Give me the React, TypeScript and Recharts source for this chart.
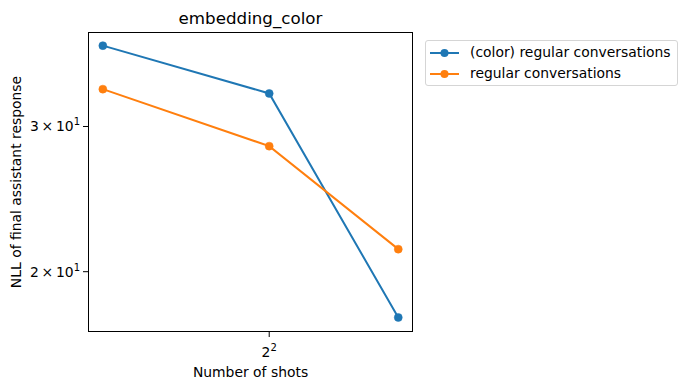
import React from "react";
import { LineChart, Line, XAxis, YAxis } from "recharts";

const shots = [3, 4, 5];
const colorRegular = [37.6, 32.9, 17.6];
const regular = [33.3, 28.4, 21.3];
const seriesNames = ["(color) regular conversations", "regular conversations"];
const seriesColors = ["#1f77b4", "#ff7f0e"];
const xTicks = [4];
const yTicks = [20, 30];

const FONT = "DejaVu Sans, sans-serif";

const data = shots.map((s, i) => ({
  shots: s,
  colorRegular: colorRegular[i],
  regular: regular[i],
}));

function XTick({ x, y, payload }: any) {
  const e = Math.round(Math.log2(payload.value));
  return (
    <text x={x} y={y + 14.5} textAnchor="middle" fontFamily={FONT} fontSize={13.9} fill="#000">
      <tspan>2</tspan>
      <tspan dy={-6} fontSize={10}>{e}</tspan>
    </text>
  );
}

function YTick({ x, y, payload }: any) {
  const v = payload.value;
  const e = Math.floor(Math.log10(v));
  const m = Math.round(v / Math.pow(10, e));
  return (
    <text x={x + 2} y={y + 5} textAnchor="end" fontFamily={FONT} fontSize={13.9} fill="#000">
      <tspan>{m}{"\u2009×\u2009"}10</tspan>
      <tspan dy={-6} fontSize={10}>{e}</tspan>
    </text>
  );
}

function LegendBox() {
  return (
    <div
      style={{
        position: "absolute",
        left: 425,
        top: 40,
        border: "1px solid #d5d5d5",
        borderRadius: 3,
        padding: "1px 6px 1px 4px",
        background: "#fff",
        fontFamily: FONT,
        fontSize: 13.9,
        lineHeight: "21px",
      }}
    >
      {seriesNames.map((n, i) => (
        <div key={n} style={{ display: "flex", alignItems: "center", whiteSpace: "nowrap" }}>
          <svg width={40} height={12} style={{ flex: "none" }}>
            <line x1={0} y1={6} x2={29} y2={6} stroke={seriesColors[i]} strokeWidth={2} />
            <circle cx={14.5} cy={6} r={4} fill={seriesColors[i]} />
          </svg>
          <span>{n}</span>
        </div>
      ))}
    </div>
  );
}

export default function App() {
  return (
    <div style={{ position: "absolute", left: 0, top: 0, width: 685, height: 390, background: "#fff" }}>
      <LineChart
        width={685}
        height={390}
        data={data}
        margin={{ top: 32, right: 272, bottom: 18, left: 28 }}
      >
        <XAxis
          dataKey="shots"
          type="number"
          scale="log"
          domain={[2.924, 5.129]}
          allowDataOverflow
          ticks={xTicks}
          height={40}
          tickSize={5}
          tickMargin={5}
          tick={<XTick />}
          axisLine={false}
          tickLine={{ stroke: "#000" }}
        />
        <YAxis
          type="number"
          scale="log"
          domain={[16.9, 39.06]}
          allowDataOverflow
          ticks={yTicks}
          width={60}
          tickSize={5}
          tickMargin={5}
          tick={<YTick />}
          axisLine={false}
          tickLine={{ stroke: "#000" }}
        />
        <Line
          dataKey="colorRegular"
          name={seriesNames[0]}
          stroke={seriesColors[0]}
          strokeWidth={2}
          dot={{ r: 4, fill: seriesColors[0], stroke: seriesColors[0], strokeWidth: 0.5 }}
          isAnimationActive={false}
        />
        <Line
          dataKey="regular"
          name={seriesNames[1]}
          stroke={seriesColors[1]}
          strokeWidth={2}
          dot={{ r: 4, fill: seriesColors[1], stroke: seriesColors[1], strokeWidth: 0.5 }}
          isAnimationActive={false}
        />
      </LineChart>
      <div
        style={{
          position: "absolute",
          left: 88,
          top: 32,
          width: 325,
          height: 300,
          boxSizing: "border-box",
          border: "1px solid #000",
          pointerEvents: "none",
          marginLeft: -0.5,
          marginTop: -0.5,
        }}
      />
      <LegendBox />
      <div
        style={{
          position: "absolute",
          left: 88,
          width: 325,
          top: 7,
          textAlign: "center",
          fontFamily: FONT,
          fontSize: 16.7,
          lineHeight: "22px",
        }}
      >
        embedding_color
      </div>
      <div
        style={{
          position: "absolute",
          left: 88,
          width: 325,
          top: 362,
          textAlign: "center",
          fontFamily: FONT,
          fontSize: 13.9,
          lineHeight: "20px",
        }}
      >
        Number of shots
      </div>
      <div
        style={{
          position: "absolute",
          left: 16 - 150,
          top: 182 - 10,
          width: 300,
          height: 20,
          lineHeight: "20px",
          textAlign: "center",
          transform: "rotate(-90deg)",
          fontFamily: FONT,
          fontSize: 13.9,
          whiteSpace: "nowrap",
        }}
      >
        NLL of final assistant response
      </div>
    </div>
  );
}
